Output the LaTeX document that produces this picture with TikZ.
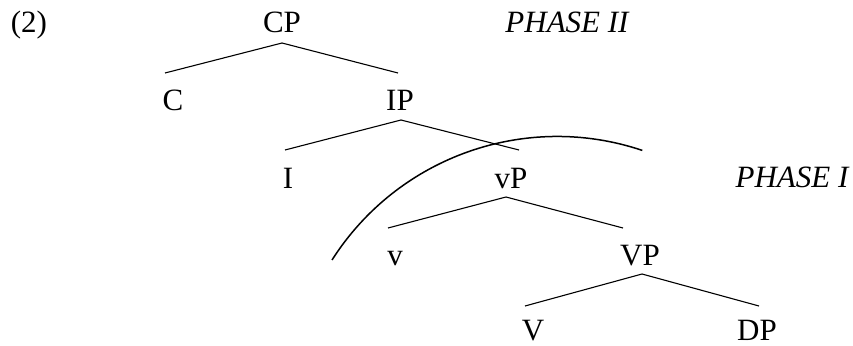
\documentclass[tikz,border=0pt]{standalone}
\usepackage{fontspec}
\setmainfont{Liberation Serif}
\begin{document}
\begin{tikzpicture}[x=1pt,y=-1pt,
  lab/.style={anchor=base,inner sep=0pt,font=\fontsize{31}{37}\selectfont},
  phase/.style={lab,font=\fontsize{31}{37}\selectfont\itshape},
  branch/.style={line width=1.1pt},
  boundary/.style={line width=1.5pt}]
\useasboundingbox (0,0) rectangle (853,345);
\node[lab] (num) at (29,33) {(2)};
\node[lab] (CP) at (282,33) {CP};
\node[phase] (ph2) at (567,33) {PHASE II};
\node[lab] (C) at (173,110) {C};
\node[lab] (IP) at (400,110) {IP};
\node[lab] (I) at (288,188) {I};
\node[lab] (vP) at (511,188) {vP};
\node[phase] (ph1) at (792,187) {PHASE I};
\node[lab] (v) at (395,265) {v};
\node[lab] (VP) at (640,265) {VP};
\node[lab] (V) at (533,340) {V};
\node[lab] (DP) at (757,340) {DP};
% branches
\draw[branch] ([xshift=-8pt,yshift=37pt]C.base) -- ([yshift=-10pt]CP.base) -- ([xshift=-2pt,yshift=37pt]IP.base);
\draw[branch] ([xshift=-3pt,yshift=38pt]I.base) -- ([xshift=1pt,yshift=-10pt]IP.base) -- ([xshift=8pt,yshift=38pt]vP.base);
\draw[branch] ([xshift=-7pt,yshift=37pt]v.base) -- ([xshift=-5pt,yshift=-9pt]vP.base) -- ([xshift=-17pt,yshift=37pt]VP.base);
\draw[branch] ([xshift=-8pt,yshift=34pt]V.base) -- ([xshift=2pt,yshift=-9pt]VP.base) -- ([xshift=2pt,yshift=34pt]DP.base);
% phase boundary
\coordinate (arcstart) at (332,260);
\draw[boundary] (arcstart) arc[start angle=147.5, end angle=71.4, radius=267pt];
\end{tikzpicture}
\end{document}
